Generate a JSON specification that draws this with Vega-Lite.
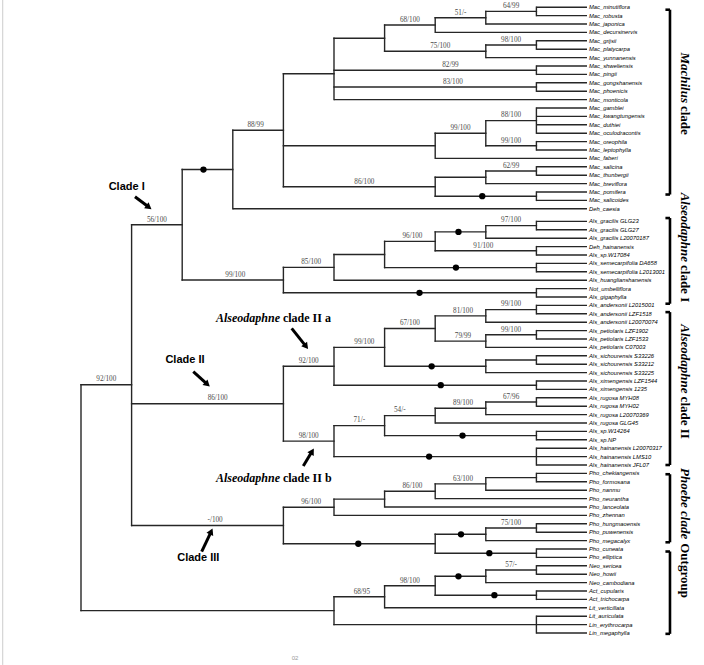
{
"$schema": "https://vega.github.io/schema/vega-lite/v6.json",
"width": 704, "height": 665, "autosize": {"type": "none"}, "padding": 0,
"background": "white",
"config": {"view": {"stroke": null}},
"datasets": {
"leaves": [
{"n":"Mac_minutiflora","p":9,"x":10,"y":1},{"n":"Mac_robusta","p":9,"x":10,"y":2},{"n":"Mac_japonica","p":8,"x":10,"y":3},{"n":"Mac_decursinervis","p":7,"x":10,"y":4},
{"n":"Mac_grijsii","p":9,"x":10,"y":5},{"n":"Mac_platycarpa","p":9,"x":10,"y":6},{"n":"Mac_yunnanensis","p":8,"x":10,"y":7},{"n":"Mac_shweliensis","p":9,"x":10,"y":8},
{"n":"Mac_pingii","p":9,"x":10,"y":9},{"n":"Mac_gongshanensis","p":9,"x":10,"y":10},{"n":"Mac_phoenicis","p":9,"x":10,"y":11},{"n":"Mac_monticola","p":5,"x":10,"y":12},
{"n":"Mac_gamblei","p":9,"x":10,"y":13},{"n":"Mac_kwangtungensis","p":9,"x":10,"y":14},{"n":"Mac_duthiei","p":9,"x":10,"y":15},{"n":"Mac_oculodracontis","p":9,"x":10,"y":16},
{"n":"Mac_oreophila","p":9,"x":10,"y":17},{"n":"Mac_leptophylla","p":9,"x":10,"y":18},{"n":"Mac_faberi","p":7,"x":10,"y":19},{"n":"Mac_salicina","p":9,"x":10,"y":20},
{"n":"Mac_thunbergii","p":9,"x":10,"y":21},{"n":"Mac_breviflora","p":8,"x":10,"y":22},{"n":"Mac_pomifera","p":9,"x":10,"y":23},{"n":"Mac_salicoides","p":9,"x":10,"y":24},
{"n":"Deh_caesia","p":3,"x":10,"y":25},
{"n":"Als_gracilis GLG23","p":9,"x":10,"y":26.5},{"n":"Als_gracilis GLG27","p":9,"x":10,"y":27.5},{"n":"Als_gracilis L20070187","p":8,"x":10,"y":28.5},
{"n":"Deh_hainanensis","p":9,"x":10,"y":29.5},{"n":"Als_sp.W17084","p":9,"x":10,"y":30.5},{"n":"Als_semecarpifolia DA658","p":9,"x":10,"y":31.5},
{"n":"Als_semecarpifolia L2013001","p":9,"x":10,"y":32.5},{"n":"Als_huanglianshanensis","p":5,"x":10,"y":33.5},{"n":"Not_umbelliflora","p":9,"x":10,"y":34.5},
{"n":"Als_gigaphylla","p":9,"x":10,"y":35.5},{"n":"Als_andersonii L2015001","p":9,"x":10,"y":36.5},{"n":"Als_andersonii LZF1518","p":9,"x":10,"y":37.5},
{"n":"Als_andersonii L20070074","p":8,"x":10,"y":38.5},{"n":"Als_petiolaris LZF1902","p":9,"x":10,"y":39.5},{"n":"Als_petiolaris LZF1533","p":9,"x":10,"y":40.5},
{"n":"Als_petiolaris C07003","p":8,"x":10,"y":41.5},{"n":"Als_sichourensis S33226","p":9,"x":10,"y":42.5},{"n":"Als_sichourensis S33212","p":9,"x":10,"y":43.5},
{"n":"Als_sichourensis S33225","p":8,"x":10,"y":44.5},{"n":"Als_ximengensis LZF1544","p":9,"x":10,"y":45.5},{"n":"Als_ximengensis 1235","p":9,"x":10,"y":46.5},
{"n":"Als_rugosa MYH08","p":9,"x":10,"y":47.5},{"n":"Als_rugosa MYH02","p":9,"x":10,"y":48.5},{"n":"Als_rugosa L20070369","p":8,"x":10,"y":49.5},
{"n":"Als_rugosa GLG45","p":7,"x":10,"y":50.5},{"n":"Als_sp.W14264","p":9,"x":10,"y":51.5},{"n":"Als_sp.NP","p":9,"x":10,"y":52.5},
{"n":"Als_hainanensis L20070317","p":9,"x":10,"y":53.5},{"n":"Als_hainanensis LMS10","p":9,"x":10,"y":54.5},{"n":"Als_hainanensis JFL07","p":9,"x":10,"y":55.5},
{"n":"Pho_chekiangensis","p":9,"x":10,"y":56.5},{"n":"Pho_formosana","p":9,"x":10,"y":57.5},{"n":"Pho_nanmu","p":8,"x":10,"y":58.5},
{"n":"Pho_neurantha","p":7,"x":10,"y":59.5},{"n":"Pho_lanceolata","p":6,"x":10,"y":60.5},{"n":"Pho_zhennan","p":5,"x":10,"y":61.5},
{"n":"Pho_hungmaoensis","p":9,"x":10,"y":62.5},{"n":"Pho_puwenensis","p":9,"x":10,"y":63.5},{"n":"Pho_megacalyx","p":8,"x":10,"y":64.5},
{"n":"Pho_cuneata","p":9,"x":10,"y":65.5},{"n":"Pho_elliptica","p":9,"x":10,"y":66.5},{"n":"Neo_sericea","p":9,"x":10,"y":67.5},
{"n":"Neo_howii","p":9,"x":10,"y":68.5},{"n":"Neo_cambodiana","p":8,"x":10,"y":69.5},{"n":"Act_cupularis","p":9,"x":10,"y":70.5},
{"n":"Act_trichocarpa","p":9,"x":10,"y":71.5},{"n":"Lit_verticillata","p":6,"x":10,"y":72.5},{"n":"Lit_auriculata","p":9,"x":10,"y":73.5},
{"n":"Lin_erythrocarpa","p":9,"x":10,"y":74.5},{"n":"Lin_megaphylla","p":9,"x":10,"y":75.5}
],
"edges": [
{"x":8,"x2":9,"y":1.5,"y2":1.5},{"x":7,"x2":8,"y":2.25,"y2":2.25},{"x":6,"x2":7,"y":3.125,"y2":3.125},{"x":8,"x2":9,"y":5.5,"y2":5.5},
{"x":6,"x2":8,"y":6.25,"y2":6.25},{"x":5,"x2":6,"y":4.6875,"y2":4.6875},{"x":5,"x2":9,"y":8.5,"y2":8.5},{"x":5,"x2":9,"y":10.5,"y2":10.5},
{"x":4,"x2":5,"y":8.92,"y2":8.92},{"x":8,"x2":9,"y":14.5,"y2":14.5},{"x":8,"x2":9,"y":17.5,"y2":17.5},{"x":7,"x2":8,"y":16,"y2":16},
{"x":4,"x2":7,"y":17.5,"y2":17.5},{"x":8,"x2":9,"y":20.5,"y2":20.5},{"x":7,"x2":8,"y":21.25,"y2":21.25},{"x":7,"x2":9,"y":23.5,"y2":23.5},
{"x":4,"x2":7,"y":22.375,"y2":22.375},{"x":3,"x2":4,"y":15.65,"y2":15.65},{"x":2,"x2":3,"y":20.33,"y2":20.33},
{"x":8,"x2":9,"y":27,"y2":27},{"x":7,"x2":8,"y":27.75,"y2":27.75},{"x":7,"x2":9,"y":30,"y2":30},{"x":6,"x2":7,"y":28.875,"y2":28.875},
{"x":6,"x2":9,"y":32,"y2":32},{"x":5,"x2":6,"y":30.44,"y2":30.44},{"x":4,"x2":5,"y":31.97,"y2":31.97},{"x":4,"x2":9,"y":35,"y2":35},
{"x":2,"x2":4,"y":33.48,"y2":33.48},{"x":1,"x2":2,"y":26.9,"y2":26.9},
{"x":8,"x2":9,"y":37,"y2":37},{"x":7,"x2":8,"y":37.75,"y2":37.75},{"x":8,"x2":9,"y":40,"y2":40},{"x":7,"x2":8,"y":40.75,"y2":40.75},
{"x":6,"x2":7,"y":39.25,"y2":39.25},{"x":8,"x2":9,"y":43,"y2":43},{"x":6,"x2":8,"y":43.75,"y2":43.75},{"x":5,"x2":6,"y":41.5,"y2":41.5},
{"x":5,"x2":9,"y":46,"y2":46},{"x":4,"x2":5,"y":43.75,"y2":43.75},{"x":8,"x2":9,"y":48,"y2":48},{"x":7,"x2":8,"y":48.75,"y2":48.75},
{"x":6,"x2":7,"y":49.625,"y2":49.625},{"x":6,"x2":9,"y":52,"y2":52},{"x":5,"x2":6,"y":50.81,"y2":50.81},{"x":5,"x2":9,"y":54.5,"y2":54.5},
{"x":4,"x2":5,"y":52.66,"y2":52.66},{"x":1,"x2":4,"y":48.2,"y2":48.2},
{"x":8,"x2":9,"y":57,"y2":57},{"x":7,"x2":8,"y":57.75,"y2":57.75},{"x":6,"x2":7,"y":58.625,"y2":58.625},{"x":5,"x2":6,"y":59.56,"y2":59.56},
{"x":4,"x2":5,"y":60.53,"y2":60.53},{"x":8,"x2":9,"y":63,"y2":63},{"x":7,"x2":8,"y":63.75,"y2":63.75},{"x":7,"x2":9,"y":66,"y2":66},
{"x":4,"x2":7,"y":64.875,"y2":64.875},{"x":1,"x2":4,"y":62.7,"y2":62.7},{"x":0,"x2":1,"y":45.94,"y2":45.94},
{"x":8,"x2":9,"y":68,"y2":68},{"x":7,"x2":8,"y":68.75,"y2":68.75},{"x":7,"x2":9,"y":71,"y2":71},{"x":6,"x2":7,"y":69.875,"y2":69.875},
{"x":5,"x2":6,"y":71.19,"y2":71.19},{"x":5,"x2":9,"y":74.5,"y2":74.5},{"x":0,"x2":5,"y":72.84,"y2":72.84},
{"x":9,"x2":9,"y":1,"y2":2},{"x":8,"x2":8,"y":1.5,"y2":3},{"x":7,"x2":7,"y":2.25,"y2":4},{"x":9,"x2":9,"y":5,"y2":6},
{"x":8,"x2":8,"y":5.5,"y2":7},{"x":6,"x2":6,"y":3.125,"y2":6.25},{"x":9,"x2":9,"y":8,"y2":9},{"x":9,"x2":9,"y":10,"y2":11},
{"x":5,"x2":5,"y":4.6875,"y2":12},{"x":9,"x2":9,"y":13,"y2":16},{"x":9,"x2":9,"y":17,"y2":18},{"x":8,"x2":8,"y":14.5,"y2":17.5},
{"x":7,"x2":7,"y":16,"y2":19},{"x":9,"x2":9,"y":20,"y2":21},{"x":8,"x2":8,"y":20.5,"y2":22},{"x":9,"x2":9,"y":23,"y2":24},
{"x":7,"x2":7,"y":21.25,"y2":23.5},{"x":4,"x2":4,"y":8.92,"y2":22.375},{"x":3,"x2":3,"y":15.65,"y2":25},
{"x":9,"x2":9,"y":26.5,"y2":27.5},{"x":8,"x2":8,"y":27,"y2":28.5},{"x":9,"x2":9,"y":29.5,"y2":30.5},{"x":7,"x2":7,"y":27.75,"y2":30},
{"x":9,"x2":9,"y":31.5,"y2":32.5},{"x":6,"x2":6,"y":28.875,"y2":32},{"x":5,"x2":5,"y":30.44,"y2":33.5},{"x":9,"x2":9,"y":34.5,"y2":35.5},
{"x":4,"x2":4,"y":31.97,"y2":35},{"x":2,"x2":2,"y":20.33,"y2":33.48},
{"x":9,"x2":9,"y":36.5,"y2":37.5},{"x":8,"x2":8,"y":37,"y2":38.5},{"x":9,"x2":9,"y":39.5,"y2":40.5},{"x":8,"x2":8,"y":40,"y2":41.5},
{"x":7,"x2":7,"y":37.75,"y2":40.75},{"x":9,"x2":9,"y":42.5,"y2":43.5},{"x":8,"x2":8,"y":43,"y2":44.5},{"x":6,"x2":6,"y":39.25,"y2":43.75},
{"x":9,"x2":9,"y":45.5,"y2":46.5},{"x":5,"x2":5,"y":41.5,"y2":46},{"x":9,"x2":9,"y":47.5,"y2":48.5},{"x":8,"x2":8,"y":48,"y2":49.5},
{"x":7,"x2":7,"y":48.75,"y2":50.5},{"x":9,"x2":9,"y":51.5,"y2":52.5},{"x":6,"x2":6,"y":49.625,"y2":52},{"x":9,"x2":9,"y":53.5,"y2":55.5},
{"x":5,"x2":5,"y":50.81,"y2":54.5},{"x":4,"x2":4,"y":43.75,"y2":52.66},
{"x":9,"x2":9,"y":56.5,"y2":57.5},{"x":8,"x2":8,"y":57,"y2":58.5},{"x":7,"x2":7,"y":57.75,"y2":59.5},{"x":6,"x2":6,"y":58.625,"y2":60.5},
{"x":5,"x2":5,"y":59.56,"y2":61.5},{"x":9,"x2":9,"y":62.5,"y2":63.5},{"x":8,"x2":8,"y":63,"y2":64.5},{"x":9,"x2":9,"y":65.5,"y2":66.5},
{"x":7,"x2":7,"y":63.75,"y2":66},{"x":4,"x2":4,"y":60.53,"y2":64.875},{"x":1,"x2":1,"y":26.9,"y2":62.7},
{"x":9,"x2":9,"y":67.5,"y2":68.5},{"x":8,"x2":8,"y":68,"y2":69.5},{"x":9,"x2":9,"y":70.5,"y2":71.5},{"x":7,"x2":7,"y":68.75,"y2":71},
{"x":6,"x2":6,"y":69.875,"y2":72.5},{"x":9,"x2":9,"y":73.5,"y2":75.5},{"x":5,"x2":5,"y":71.19,"y2":74.5},{"x":0,"x2":0,"y":45.94,"y2":72.84}
],
"dots": [
{"x":2.42,"y":20.33},{"x":7.93,"y":23.5},{"x":7.46,"y":27.75},{"x":7.41,"y":32},{"x":6.69,"y":35},{"x":6.93,"y":43.75},{"x":7.11,"y":46},
{"x":7.54,"y":52},{"x":6.88,"y":54.5},{"x":5.48,"y":64.875},{"x":7.51,"y":63.75},{"x":8.07,"y":66},{"x":7.46,"y":68.75},{"x":8.17,"y":71}
],
"supports": [
{"t":"64/99","x":8.5,"y":1.5},{"t":"51/-","x":7.5,"y":2.25},{"t":"68/100","x":6.5,"y":3.125},{"t":"98/100","x":8.5,"y":5.5},
{"t":"75/100","x":7.1,"y":6.25},{"t":"82/99","x":7.3,"y":8.5},{"t":"83/100","x":7.35,"y":10.5},{"t":"88/100","x":8.5,"y":14.5},
{"t":"99/100","x":7.5,"y":16},{"t":"99/100","x":8.5,"y":17.5},{"t":"62/99","x":8.5,"y":20.5},{"t":"86/100","x":5.6,"y":22.375},
{"t":"88/99","x":3.45,"y":15.65},{"t":"56/100","x":1.5,"y":26.9},{"t":"99/100","x":3.05,"y":33.48},{"t":"85/100","x":4.55,"y":31.97},
{"t":"96/100","x":6.55,"y":28.875},{"t":"97/100","x":8.5,"y":27},{"t":"91/100","x":7.95,"y":30},{"t":"92/100","x":0.5,"y":45.94},
{"t":"86/100","x":2.7,"y":48.2},{"t":"92/100","x":4.5,"y":43.75},{"t":"99/100","x":5.6,"y":41.5},{"t":"81/100","x":7.55,"y":37.75},
{"t":"99/100","x":8.5,"y":37},{"t":"67/100","x":6.5,"y":39.25},{"t":"79/99","x":7.55,"y":40.75},{"t":"99/100","x":8.5,"y":40},
{"t":"98/100","x":4.5,"y":52.66},{"t":"71/-","x":5.5,"y":50.81},{"t":"54/-","x":6.3,"y":49.625},{"t":"89/100","x":7.55,"y":48.75},
{"t":"67/96","x":8.5,"y":48},{"t":"-/100","x":2.65,"y":62.7},{"t":"96/100","x":4.55,"y":60.53},{"t":"86/100","x":6.55,"y":58.625},
{"t":"63/100","x":7.55,"y":57.75},{"t":"75/100","x":8.5,"y":63},{"t":"57/-","x":8.5,"y":68},{"t":"98/100","x":6.5,"y":69.875},
{"t":"68/95","x":5.55,"y":71.19}
],
"brackets": [
{"x":11.64,"x2":11.64,"y":1.3,"y2":23.3},{"x":11.55,"x2":11.64,"y":1.3,"y2":1.3},{"x":11.55,"x2":11.64,"y":23.3,"y2":23.3},
{"x":11.64,"x2":11.64,"y":26.1,"y2":36.3},{"x":11.55,"x2":11.64,"y":26.1,"y2":26.1},{"x":11.55,"x2":11.64,"y":36.3,"y2":36.3},
{"x":11.64,"x2":11.64,"y":37.3,"y2":55.5},{"x":11.55,"x2":11.64,"y":37.3,"y2":37.3},{"x":11.55,"x2":11.64,"y":55.5,"y2":55.5},
{"x":11.64,"x2":11.64,"y":56.6,"y2":64.7},{"x":11.55,"x2":11.64,"y":56.6,"y2":56.6},{"x":11.55,"x2":11.64,"y":64.7,"y2":64.7},
{"x":11.64,"x2":11.64,"y":65.8,"y2":75.6},{"x":11.55,"x2":11.64,"y":65.8,"y2":65.8},{"x":11.55,"x2":11.64,"y":75.6,"y2":75.6}
],
"arrows": [
{"x":1.067,"y":23.56,"x2":1.318,"y2":24.70,"hx":1.342,"hy":24.81,"a":127},
{"x":2.219,"y":44.39,"x2":2.476,"y2":45.79,"hx":2.498,"hy":45.90,"a":132},
{"x":2.385,"y":65.82,"x2":2.561,"y2":63.57,"hx":2.573,"hy":63.42,"a":25},
{"x":4.164,"y":39.23,"x2":4.431,"y2":41.26,"hx":4.449,"hy":41.40,"a":142},
{"x":4.393,"y":55.62,"x2":4.553,"y2":54.02,"hx":4.569,"hy":53.87,"a":31}
]
},
"layer": [
{"data": {"values": [{"x": -1.547, "y": 0.143, "y2": 79.3}]}, "mark": {"type": "rule", "color": "#cccccc", "strokeWidth": 1},
 "encoding": {"x": {"field": "x", "type": "quantitative", "scale": {"domain": [-1.6008, 12.3123], "nice": false, "zero": false}, "axis": null},
  "y": {"field": "y", "type": "quantitative", "scale": {"domain": [0.142857, 79.3095], "nice": false, "zero": false, "reverse": true}, "axis": null},
  "y2": {"field": "y2"}}},
{"data": {"name": "edges"}, "mark": {"type": "rule", "color": "#262626", "strokeWidth": 1.4, "strokeCap": "square"},
 "encoding": {"x": {"field": "x", "type": "quantitative", "scale": {"domain": [-1.6008, 12.3123], "nice": false, "zero": false}, "axis": null},
  "y": {"field": "y", "type": "quantitative", "scale": {"domain": [0.142857, 79.3095], "nice": false, "zero": false, "reverse": true}, "axis": null},
  "x2": {"field": "x2"}, "y2": {"field": "y2"}}},
{"data": {"name": "leaves"}, "mark": {"type": "rule", "color": "#262626", "strokeWidth": 1.4},
 "encoding": {"x": {"field": "p", "type": "quantitative", "scale": {"domain": [-1.6008, 12.3123], "nice": false, "zero": false}, "axis": null},
  "y": {"field": "y", "type": "quantitative", "scale": {"domain": [0.142857, 79.3095], "nice": false, "zero": false, "reverse": true}, "axis": null},
  "x2": {"field": "x"}}},
{"data": {"name": "leaves"}, "mark": {"type": "text", "align": "left", "baseline": "middle", "dx": 2, "font": "Liberation Sans", "fontStyle": "italic", "fontSize": 5.8, "color": "#000000"},
 "encoding": {"x": {"field": "x", "type": "quantitative", "scale": {"domain": [-1.6008, 12.3123], "nice": false, "zero": false}, "axis": null},
  "y": {"field": "y", "type": "quantitative", "scale": {"domain": [0.142857, 79.3095], "nice": false, "zero": false, "reverse": true}, "axis": null},
  "text": {"field": "n"}}},
{"data": {"name": "dots"}, "mark": {"type": "point", "filled": true, "shape": "circle", "size": 40, "color": "#000000", "opacity": 1},
 "encoding": {"x": {"field": "x", "type": "quantitative", "scale": {"domain": [-1.6008, 12.3123], "nice": false, "zero": false}, "axis": null},
  "y": {"field": "y", "type": "quantitative", "scale": {"domain": [0.142857, 79.3095], "nice": false, "zero": false, "reverse": true}, "axis": null}}},
{"data": {"name": "supports"}, "mark": {"type": "text", "align": "center", "baseline": "alphabetic", "dy": -3.2, "font": "Liberation Serif", "fontSize": 7.2, "color": "#4a4a4a"},
 "encoding": {"x": {"field": "x", "type": "quantitative", "scale": {"domain": [-1.6008, 12.3123], "nice": false, "zero": false}, "axis": null},
  "y": {"field": "y", "type": "quantitative", "scale": {"domain": [0.142857, 79.3095], "nice": false, "zero": false, "reverse": true}, "axis": null},
  "text": {"field": "t"}}},
{"data": {"name": "brackets"}, "mark": {"type": "rule", "color": "#000000", "strokeWidth": 2.6},
 "encoding": {"x": {"field": "x", "type": "quantitative", "scale": {"domain": [-1.6008, 12.3123], "nice": false, "zero": false}, "axis": null},
  "y": {"field": "y", "type": "quantitative", "scale": {"domain": [0.142857, 79.3095], "nice": false, "zero": false, "reverse": true}, "axis": null},
  "x2": {"field": "x2"}, "y2": {"field": "y2"}}},
{"data": {"values": [{"t": "Machilus", "x": 11.937, "y": 12.4}, {"t": "Alseodaphne", "x": 11.937, "y": 31.33}, {"t": "Alseodaphne", "x": 11.937, "y": 47.0}]},
 "mark": {"type": "text", "angle": 90, "align": "right", "baseline": "middle", "font": "Liberation Serif", "fontStyle": "italic", "fontWeight": "bold", "fontSize": 13, "color": "#000000"},
 "encoding": {"x": {"field": "x", "type": "quantitative", "scale": {"domain": [-1.6008, 12.3123], "nice": false, "zero": false}, "axis": null},
  "y": {"field": "y", "type": "quantitative", "scale": {"domain": [0.142857, 79.3095], "nice": false, "zero": false, "reverse": true}, "axis": null},
  "text": {"field": "t"}}},
{"data": {"values": [{"t": "clade", "x": 11.937, "y": 12.76}, {"t": "clade I", "x": 11.937, "y": 31.69}, {"t": "clade II", "x": 11.937, "y": 47.36}]},
 "mark": {"type": "text", "angle": 90, "align": "left", "baseline": "middle", "font": "Liberation Serif", "fontWeight": "bold", "fontSize": 13, "color": "#000000"},
 "encoding": {"x": {"field": "x", "type": "quantitative", "scale": {"domain": [-1.6008, 12.3123], "nice": false, "zero": false}, "axis": null},
  "y": {"field": "y", "type": "quantitative", "scale": {"domain": [0.142857, 79.3095], "nice": false, "zero": false, "reverse": true}, "axis": null},
  "text": {"field": "t"}}},
{"data": {"values": [{"t": "Phoebe clade", "x": 11.937, "y": 60.1}]},
 "mark": {"type": "text", "angle": 90, "align": "center", "baseline": "middle", "font": "Liberation Serif", "fontStyle": "italic", "fontWeight": "bold", "fontSize": 13, "color": "#000000"},
 "encoding": {"x": {"field": "x", "type": "quantitative", "scale": {"domain": [-1.6008, 12.3123], "nice": false, "zero": false}, "axis": null},
  "y": {"field": "y", "type": "quantitative", "scale": {"domain": [0.142857, 79.3095], "nice": false, "zero": false, "reverse": true}, "axis": null},
  "text": {"field": "t"}}},
{"data": {"values": [{"t": "Outgroup", "x": 11.937, "y": 68.07}]},
 "mark": {"type": "text", "angle": 90, "align": "center", "baseline": "middle", "font": "Liberation Serif", "fontWeight": "bold", "fontSize": 13, "color": "#000000"},
 "encoding": {"x": {"field": "x", "type": "quantitative", "scale": {"domain": [-1.6008, 12.3123], "nice": false, "zero": false}, "axis": null},
  "y": {"field": "y", "type": "quantitative", "scale": {"domain": [0.142857, 79.3095], "nice": false, "zero": false, "reverse": true}, "axis": null},
  "text": {"field": "t"}}},
{"data": {"values": [{"t": "Clade I", "x": 0.903, "y": 22.37}, {"t": "Clade II", "x": 2.055, "y": 43.0}, {"t": "Clade III", "x": 2.318, "y": 66.54}]},
 "mark": {"type": "text", "align": "center", "baseline": "middle", "font": "Liberation Sans", "fontWeight": "bold", "fontSize": 11, "color": "#000000"},
 "encoding": {"x": {"field": "x", "type": "quantitative", "scale": {"domain": [-1.6008, 12.3123], "nice": false, "zero": false}, "axis": null},
  "y": {"field": "y", "type": "quantitative", "scale": {"domain": [0.142857, 79.3095], "nice": false, "zero": false, "reverse": true}, "axis": null},
  "text": {"field": "t"}}},
{"data": {"values": [{"t": "Alseodaphne", "x": 3.933, "y": 38.04}, {"t": "Alseodaphne", "x": 3.933, "y": 57.01}]},
 "mark": {"type": "text", "align": "right", "baseline": "middle", "font": "Liberation Serif", "fontStyle": "italic", "fontWeight": "bold", "fontSize": 12, "color": "#000000"},
 "encoding": {"x": {"field": "x", "type": "quantitative", "scale": {"domain": [-1.6008, 12.3123], "nice": false, "zero": false}, "axis": null},
  "y": {"field": "y", "type": "quantitative", "scale": {"domain": [0.142857, 79.3095], "nice": false, "zero": false, "reverse": true}, "axis": null},
  "text": {"field": "t"}}},
{"data": {"values": [{"t": "clade II a", "x": 3.99, "y": 38.04}, {"t": "clade II b", "x": 3.99, "y": 57.01}]},
 "mark": {"type": "text", "align": "left", "baseline": "middle", "font": "Liberation Serif", "fontWeight": "bold", "fontSize": 12, "color": "#000000"},
 "encoding": {"x": {"field": "x", "type": "quantitative", "scale": {"domain": [-1.6008, 12.3123], "nice": false, "zero": false}, "axis": null},
  "y": {"field": "y", "type": "quantitative", "scale": {"domain": [0.142857, 79.3095], "nice": false, "zero": false, "reverse": true}, "axis": null},
  "text": {"field": "t"}}},
{"data": {"name": "arrows"}, "mark": {"type": "rule", "color": "#000000", "strokeWidth": 3},
 "encoding": {"x": {"field": "x", "type": "quantitative", "scale": {"domain": [-1.6008, 12.3123], "nice": false, "zero": false}, "axis": null},
  "y": {"field": "y", "type": "quantitative", "scale": {"domain": [0.142857, 79.3095], "nice": false, "zero": false, "reverse": true}, "axis": null},
  "x2": {"field": "x2"}, "y2": {"field": "y2"}}},
{"data": {"name": "arrows"}, "mark": {"type": "point", "shape": "triangle-up", "filled": true, "size": 55, "color": "#000000", "opacity": 1},
 "encoding": {"x": {"field": "hx", "type": "quantitative", "scale": {"domain": [-1.6008, 12.3123], "nice": false, "zero": false}, "axis": null},
  "y": {"field": "hy", "type": "quantitative", "scale": {"domain": [0.142857, 79.3095], "nice": false, "zero": false, "reverse": true}, "axis": null},
  "angle": {"field": "a", "type": "quantitative", "scale": null}}},
{"data": {"values": [{"t": "02", "x": 4.229, "y": 78.48}]},
 "mark": {"type": "text", "align": "center", "baseline": "middle", "font": "Liberation Sans", "fontSize": 6, "color": "#999999"},
 "encoding": {"x": {"field": "x", "type": "quantitative", "scale": {"domain": [-1.6008, 12.3123], "nice": false, "zero": false}, "axis": null},
  "y": {"field": "y", "type": "quantitative", "scale": {"domain": [0.142857, 79.3095], "nice": false, "zero": false, "reverse": true}, "axis": null},
  "text": {"field": "t"}}}
]
}
